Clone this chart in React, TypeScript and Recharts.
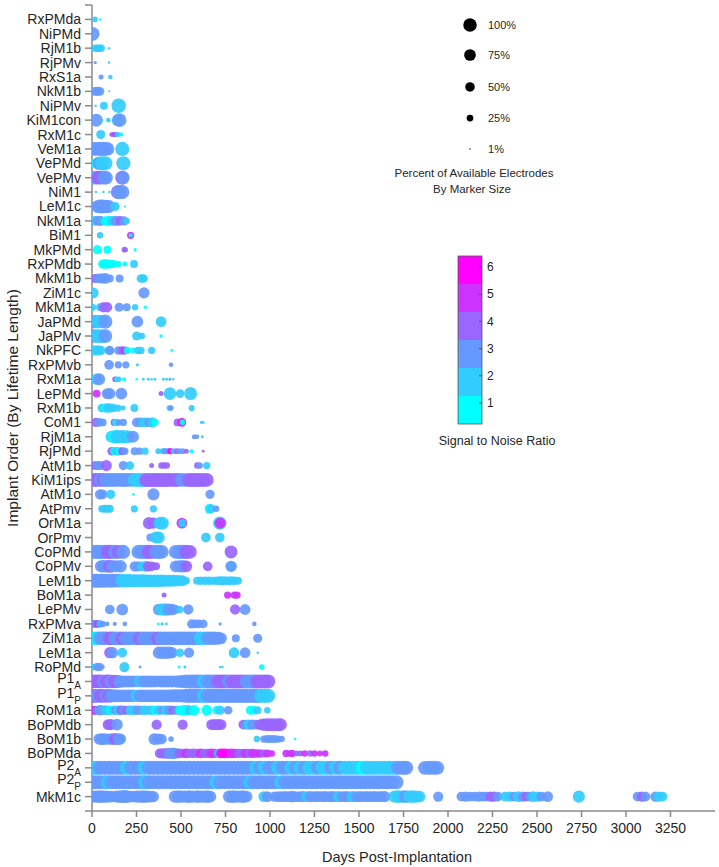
import React from "react";
import { ScatterChart, Scatter, XAxis, YAxis, Label } from "recharts";

// each dot: [days post-implantation, % of available electrodes, SNR level]
type Dot = [number, number, number];

const rxPMda: Dot[] = [[17, 15, 2], [45, 3, 1]];
const niPMd: Dot[] = [[4, 90, 3]];
const rjM1b: Dot[] = [[18, 25, 2], [30, 25, 2], [42, 25, 2], [52, 25, 2], [96, 3, 2]];
const rjPMv: Dot[] = [[18, 5, 3], [96, 3, 2]];
const rxS1a: Dot[] = [[51, 12, 3], [103, 10, 2]];
const nkM1b: Dot[] = [[15, 35, 3], [30, 40, 3], [45, 35, 3], [96, 2, 2]];
const niPMv: Dot[] = [[20, 3, 2], [67, 30, 2], [150, 100, 2]];
const kiM1con: Dot[] = [[24, 80, 3], [55, 3, 2], [92, 10, 2], [145, 70, 2], [155, 90, 3]];
const rxM1c: Dot[] = [[49, 40, 2], [110, 10, 4], [120, 12, 4], [130, 12, 5], [140, 12, 2], [152, 10, 2], [165, 8, 1]];
const veM1a: Dot[] = [[5, 85, 3], [20, 90, 3], [36, 90, 3], [50, 95, 3], [62, 90, 3], [75, 90, 3], [88, 85, 3], [170, 95, 2]];
const vePMd: Dot[] = [[2, 20, 3], [30, 70, 1], [40, 80, 3], [55, 95, 2], [75, 95, 2], [176, 95, 2]];
const vePMv: Dot[] = [[7, 85, 2], [25, 90, 3], [38, 90, 4], [52, 90, 4], [68, 90, 3], [80, 85, 3], [170, 95, 4], [174, 80, 3]];
const niM1: Dot[] = [[22, 3, 2], [64, 3, 2], [98, 3, 2], [145, 90, 4], [152, 95, 3], [170, 95, 3]];
const leM1c: Dot[] = [[30, 75, 3], [45, 90, 3], [60, 90, 3], [78, 85, 3], [95, 80, 3], [130, 40, 2], [185, 2, 2]];
const nkM1a: Dot[] = [[15, 45, 2], [30, 45, 3], [48, 50, 3], [65, 30, 2], [80, 40, 1], [95, 50, 1], [115, 45, 2], [135, 50, 3], [158, 45, 4], [180, 40, 3], [195, 20, 2]];
const biM1: Dot[] = [[45, 20, 2], [217, 25, 5], [217, 8, 1]];
const mkPMd: Dot[] = [[30, 40, 1], [86, 30, 1], [182, 15, 4], [188, 12, 4], [242, 5, 1]];
const rxPMdb: Dot[] = [[60, 40, 1], [75, 45, 1], [90, 40, 1], [105, 35, 1], [120, 30, 1], [148, 20, 1], [185, 12, 1], [236, 30, 2]];
const mkM1b: Dot[] = [[17, 40, 4], [35, 45, 3], [55, 50, 3], [75, 55, 3], [100, 30, 3], [155, 30, 3], [275, 35, 2], [290, 35, 2]];
const ziM1c: Dot[] = [[7, 55, 2], [292, 60, 3]];
const mkM1a: Dot[] = [[3, 25, 2], [45, 30, 2], [65, 50, 4], [85, 50, 4], [153, 40, 3], [195, 30, 3], [242, 20, 2], [300, 6, 1]];
const jaPMd: Dot[] = [[15, 85, 3], [35, 90, 2], [55, 85, 2], [75, 95, 3], [255, 65, 3], [388, 55, 2]];
const jaPMv: Dot[] = [[15, 85, 3], [35, 90, 2], [55, 90, 2], [75, 90, 3], [251, 40, 2], [280, 20, 2], [388, 6, 1]];
const nkPFC: Dot[] = [[15, 50, 2], [35, 50, 2], [50, 40, 2], [95, 35, 2], [100, 40, 3], [148, 35, 3], [168, 35, 4], [185, 30, 5], [198, 25, 1], [230, 15, 1], [258, 25, 2], [275, 25, 2], [335, 25, 2], [448, 4, 1]];
const rxPMvb: Dot[] = [[96, 45, 3], [148, 25, 3], [190, 25, 3], [255, 5, 2], [444, 10, 3]];
const rxM1a: Dot[] = [[25, 60, 2], [40, 70, 3], [130, 15, 5], [140, 15, 1], [150, 15, 2], [180, 8, 1], [251, 3, 1], [288, 4, 2], [316, 4, 2], [335, 3, 2], [354, 4, 2], [401, 4, 2], [419, 4, 2], [438, 4, 3], [457, 3, 2]];
const lePMd: Dot[] = [[26, 30, 5], [85, 55, 3], [100, 60, 3], [165, 65, 3], [388, 12, 4], [438, 75, 2], [495, 35, 2], [554, 80, 2]];
const rxM1b: Dot[] = [[55, 35, 2], [75, 40, 1], [90, 45, 2], [105, 40, 2], [120, 30, 2], [145, 25, 2], [175, 12, 2], [238, 30, 2], [435, 15, 2], [443, 15, 3], [560, 18, 2]];
const coM1: Dot[] = [[21, 40, 4], [40, 35, 3], [60, 30, 3], [125, 25, 4], [135, 25, 1], [150, 20, 3], [176, 25, 3], [250, 40, 3], [270, 45, 3], [285, 40, 2], [300, 45, 2], [320, 40, 3], [340, 50, 2], [354, 25, 1], [481, 30, 4], [505, 35, 6], [508, 15, 1], [615, 5, 2], [625, 4, 2]];
const rjM1a: Dot[] = [[110, 70, 2], [125, 80, 1], [140, 85, 2], [155, 80, 2], [175, 85, 2], [200, 80, 2], [230, 70, 3], [575, 12, 3], [590, 10, 3], [620, 4, 2]];
const rjPMd: Dot[] = [[110, 35, 4], [125, 30, 1], [140, 35, 2], [155, 30, 1], [170, 30, 4], [185, 25, 3], [240, 30, 3], [268, 25, 3], [298, 25, 2], [372, 15, 2], [395, 15, 2], [410, 18, 3], [425, 15, 3], [440, 18, 6], [457, 15, 2], [475, 15, 4], [490, 15, 3], [510, 15, 3], [530, 12, 4], [560, 8, 1], [625, 4, 4]];
const atM1b: Dot[] = [[15, 35, 4], [30, 40, 3], [45, 40, 3], [80, 60, 4], [176, 40, 3], [213, 35, 2], [335, 12, 4], [390, 20, 4], [405, 20, 4], [420, 20, 4], [592, 20, 4], [605, 20, 3], [645, 25, 2]];
const kiM1ips: Dot[] = [[8, 85, 3], [20, 90, 4], [35, 90, 4], [50, 90, 3], [65, 90, 4], [80, 95, 3], [100, 90, 3], [120, 95, 3], [140, 90, 3], [160, 90, 3], [180, 95, 3], [200, 90, 3], [220, 90, 3], [240, 90, 2], [255, 90, 2], [270, 95, 2], [290, 95, 2], [305, 95, 4], [325, 95, 4], [345, 95, 4], [365, 95, 4], [385, 95, 4], [405, 95, 4], [425, 95, 4], [445, 90, 4], [465, 95, 4], [485, 90, 4], [505, 90, 3], [525, 85, 3], [545, 95, 4], [565, 95, 4], [585, 95, 4], [605, 95, 4], [625, 95, 4], [645, 90, 4]];
const atM1o: Dot[] = [[45, 50, 3], [60, 45, 3], [105, 40, 2], [232, 3, 1], [345, 70, 3], [663, 40, 3]];
const atPmv: Dot[] = [[55, 25, 2], [70, 30, 2], [85, 30, 2], [100, 30, 2], [238, 25, 2], [345, 25, 2], [660, 45, 1], [668, 40, 2], [697, 20, 3]];
const orM1a: Dot[] = [[320, 70, 4], [345, 60, 4], [380, 70, 2], [395, 80, 2], [505, 55, 5], [508, 30, 2], [718, 85, 2], [720, 55, 5]];
const orPmv: Dot[] = [[328, 30, 3], [360, 70, 2], [375, 70, 2], [640, 45, 2], [718, 45, 2]];
const coPMd: Dot[] = [[12, 90, 3], [30, 95, 3], [50, 95, 3], [70, 95, 3], [90, 95, 4], [110, 95, 4], [130, 95, 3], [150, 90, 4], [175, 95, 3], [260, 90, 3], [280, 95, 3], [300, 95, 3], [320, 95, 4], [340, 90, 4], [360, 90, 3], [375, 95, 3], [392, 90, 3], [470, 90, 3], [490, 95, 3], [510, 95, 3], [530, 95, 4], [550, 90, 4], [781, 80, 4]];
const coPMv: Dot[] = [[50, 70, 3], [65, 75, 3], [80, 70, 3], [100, 80, 4], [115, 70, 3], [135, 70, 3], [160, 75, 3], [240, 50, 3], [260, 50, 3], [280, 45, 2], [300, 55, 2], [315, 50, 4], [335, 45, 4], [360, 30, 4], [470, 65, 3], [490, 70, 3], [510, 75, 3], [530, 65, 4], [650, 45, 4], [778, 50, 1], [782, 60, 3]];
const leM1b: Dot[] = [[10, 90, 3], [25, 95, 3], [40, 95, 3], [55, 90, 3], [70, 95, 3], [90, 90, 3], [110, 95, 3], [130, 90, 3], [150, 90, 3], [170, 85, 2], [190, 85, 2], [210, 85, 2], [230, 80, 2], [250, 80, 2], [270, 80, 2], [290, 80, 2], [310, 75, 2], [330, 75, 2], [350, 75, 2], [370, 75, 2], [390, 75, 2], [410, 70, 2], [430, 70, 2], [450, 70, 2], [470, 65, 2], [490, 60, 2], [510, 55, 2], [530, 25, 2], [590, 30, 2], [610, 35, 2], [635, 35, 2], [660, 35, 2], [680, 30, 2], [700, 35, 2], [720, 40, 2], [740, 40, 2], [760, 35, 2], [780, 40, 2], [800, 35, 2], [820, 30, 2]];
const boM1a: Dot[] = [[405, 12, 4], [762, 25, 5], [800, 25, 5], [815, 25, 5]];
const lePMv: Dot[] = [[100, 45, 3], [170, 65, 3], [375, 65, 3], [390, 70, 2], [410, 75, 2], [430, 70, 3], [450, 65, 3], [470, 40, 3], [494, 25, 2], [541, 50, 3], [804, 50, 4], [860, 55, 3]];
const rxPMva: Dot[] = [[10, 30, 3], [25, 30, 4], [36, 25, 5], [45, 25, 2], [60, 20, 3], [85, 10, 3], [128, 8, 3], [185, 10, 3], [372, 4, 1], [394, 5, 2], [418, 4, 2], [560, 40, 3], [580, 35, 3], [600, 35, 3], [625, 35, 3], [720, 5, 3], [912, 10, 3]];
const ziM1a: Dot[] = [[5, 80, 2], [20, 85, 1], [35, 85, 2], [50, 85, 3], [65, 90, 3], [80, 85, 3], [100, 90, 4], [115, 85, 4], [130, 90, 3], [150, 90, 3], [170, 90, 4], [190, 90, 3], [210, 90, 3], [230, 85, 3], [250, 90, 3], [270, 90, 4], [290, 90, 3], [310, 90, 3], [330, 90, 3], [350, 90, 3], [370, 90, 4], [390, 90, 3], [410, 90, 3], [430, 90, 3], [450, 90, 3], [470, 90, 3], [490, 90, 3], [510, 90, 3], [530, 90, 3], [550, 90, 3], [570, 90, 3], [590, 85, 3], [610, 90, 2], [630, 85, 2], [650, 85, 3], [670, 85, 3], [690, 85, 3], [710, 80, 3], [725, 65, 3], [808, 30, 3], [931, 40, 3]];
const leM1a: Dot[] = [[100, 60, 4], [115, 60, 3], [170, 45, 2], [375, 70, 3], [395, 75, 3], [415, 75, 3], [435, 70, 3], [450, 60, 3], [494, 35, 2], [545, 50, 3], [798, 55, 2], [860, 55, 3], [931, 3, 2]];
const roPMd: Dot[] = [[7, 20, 2], [30, 35, 3], [45, 30, 3], [64, 4, 3], [182, 50, 2], [270, 4, 3], [490, 4, 1], [522, 4, 2], [720, 3, 2], [733, 3, 2], [954, 15, 1]];
const p1A: Dot[] = [[5, 85, 4], [20, 90, 4], [35, 90, 4], [50, 90, 4], [65, 85, 3], [80, 90, 4], [95, 90, 4], [110, 85, 3], [125, 85, 4], [140, 80, 4], [155, 75, 3], [170, 70, 3], [190, 70, 3], [210, 70, 3], [230, 70, 3], [250, 65, 3], [270, 65, 2], [290, 70, 3], [310, 70, 3], [330, 70, 3], [350, 70, 3], [370, 65, 3], [390, 70, 3], [410, 70, 3], [430, 70, 3], [450, 70, 3], [470, 70, 3], [490, 75, 3], [510, 80, 3], [530, 90, 3], [550, 95, 3], [570, 95, 3], [590, 95, 3], [610, 95, 3], [630, 95, 2], [650, 95, 3], [670, 95, 3], [690, 95, 3], [710, 95, 4], [730, 95, 4], [750, 95, 4], [770, 95, 3], [790, 95, 4], [810, 95, 4], [830, 95, 4], [850, 95, 4], [870, 95, 3], [890, 95, 3], [910, 95, 3], [930, 95, 4], [950, 95, 4], [970, 95, 4], [990, 95, 4]];
const p1P: Dot[] = [[5, 90, 4], [20, 90, 4], [35, 90, 3], [50, 90, 4], [65, 90, 4], [80, 85, 3], [95, 90, 4], [110, 85, 3], [130, 80, 3], [150, 75, 3], [170, 75, 3], [190, 75, 3], [210, 75, 3], [230, 75, 3], [250, 70, 2], [270, 75, 3], [290, 75, 3], [310, 75, 3], [330, 75, 3], [350, 75, 3], [370, 75, 3], [390, 75, 3], [410, 75, 3], [430, 75, 3], [450, 80, 3], [470, 80, 3], [490, 80, 3], [510, 85, 3], [530, 95, 3], [550, 95, 3], [570, 95, 3], [590, 95, 3], [610, 95, 3], [630, 95, 2], [650, 95, 3], [670, 95, 3], [690, 95, 3], [710, 95, 3], [730, 95, 3], [750, 95, 3], [770, 95, 3], [790, 95, 3], [810, 95, 3], [830, 95, 3], [850, 95, 3], [870, 95, 3], [890, 95, 3], [910, 95, 3], [930, 95, 3], [950, 95, 2], [970, 95, 2], [990, 95, 2]];
const roM1a: Dot[] = [[0, 35, 1], [15, 40, 6], [30, 40, 3], [45, 50, 3], [60, 45, 3], [75, 45, 2], [90, 45, 2], [105, 40, 1], [120, 40, 2], [135, 40, 3], [150, 45, 2], [165, 45, 4], [180, 40, 3], [195, 40, 4], [215, 45, 2], [235, 45, 2], [255, 45, 3], [275, 40, 3], [295, 45, 2], [315, 40, 2], [335, 45, 2], [355, 40, 1], [375, 45, 2], [395, 40, 3], [415, 45, 2], [435, 45, 3], [455, 40, 4], [475, 40, 3], [495, 45, 1], [515, 50, 1], [535, 55, 1], [550, 45, 2], [575, 50, 1], [645, 55, 1], [700, 35, 1], [720, 40, 2], [765, 35, 3], [890, 40, 1], [910, 35, 1], [930, 30, 2], [985, 20, 2]];
const boPMdb: Dot[] = [[90, 55, 4], [105, 60, 4], [140, 65, 3], [363, 50, 4], [509, 50, 4], [672, 55, 4], [690, 60, 4], [710, 60, 4], [725, 55, 4], [850, 45, 4], [865, 45, 3], [880, 50, 2], [900, 50, 3], [920, 45, 3], [940, 50, 4], [960, 70, 4], [980, 80, 4], [1000, 80, 4], [1020, 80, 4], [1045, 80, 4], [1060, 75, 4]];
const boM1b: Dot[] = [[40, 60, 3], [55, 65, 3], [70, 65, 3], [90, 60, 3], [110, 65, 3], [130, 70, 4], [150, 65, 3], [160, 60, 3], [350, 65, 3], [370, 60, 3], [390, 55, 3], [444, 15, 3], [926, 20, 2], [965, 25, 3], [985, 30, 3], [1005, 30, 3], [1025, 30, 3], [1045, 25, 3], [1065, 20, 3], [1141, 3, 1]];
const boPMda: Dot[] = [[380, 45, 4], [395, 50, 4], [415, 55, 4], [435, 60, 3], [455, 65, 3], [470, 55, 3], [490, 45, 4], [510, 40, 4], [530, 45, 5], [550, 40, 4], [570, 45, 4], [590, 40, 4], [610, 45, 5], [630, 40, 4], [650, 40, 4], [670, 45, 5], [690, 40, 5], [710, 40, 2], [725, 45, 6], [745, 45, 6], [765, 40, 6], [785, 45, 5], [805, 40, 5], [825, 40, 4], [845, 40, 4], [865, 40, 5], [885, 40, 4], [905, 40, 5], [925, 35, 5], [945, 35, 5], [965, 30, 4], [985, 30, 5], [1010, 20, 5], [1090, 25, 5], [1110, 20, 5], [1125, 25, 5], [1150, 15, 4], [1170, 15, 4], [1195, 20, 5], [1225, 20, 4], [1250, 20, 5], [1280, 15, 5], [1310, 20, 5]];
const p2A: Dot[] = [[5, 90, 3], [25, 95, 2], [45, 95, 3], [70, 95, 3], [95, 95, 3], [120, 95, 3], [145, 95, 3], [170, 95, 3], [195, 95, 2], [220, 95, 3], [245, 95, 3], [270, 95, 3], [295, 95, 2], [320, 95, 3], [345, 95, 3], [370, 95, 3], [395, 95, 3], [420, 95, 3], [445, 95, 3], [470, 95, 3], [495, 95, 3], [520, 95, 3], [545, 95, 3], [570, 95, 3], [595, 95, 3], [620, 95, 3], [645, 95, 3], [670, 95, 3], [695, 95, 3], [720, 95, 3], [745, 95, 3], [770, 95, 3], [795, 95, 3], [820, 95, 3], [845, 95, 3], [870, 95, 3], [895, 95, 3], [920, 95, 2], [945, 95, 3], [970, 95, 2], [995, 95, 3], [1020, 95, 3], [1045, 95, 2], [1070, 95, 3], [1095, 95, 3], [1120, 95, 2], [1145, 95, 3], [1170, 95, 2], [1195, 95, 3], [1220, 95, 2], [1245, 95, 2], [1270, 95, 3], [1295, 95, 2], [1320, 95, 2], [1345, 95, 3], [1370, 95, 2], [1395, 95, 3], [1420, 95, 2], [1445, 95, 2], [1470, 95, 2], [1495, 95, 2], [1520, 95, 1], [1545, 95, 2], [1570, 95, 2], [1595, 95, 2], [1620, 95, 2], [1645, 95, 2], [1670, 95, 2], [1695, 95, 2], [1720, 95, 3], [1745, 95, 3], [1765, 95, 3], [1870, 90, 3], [1895, 95, 3], [1920, 95, 3], [1940, 90, 3]];
const p2P: Dot[] = [[5, 95, 3], [25, 95, 3], [45, 95, 3], [70, 95, 3], [90, 95, 2], [110, 95, 3], [135, 95, 3], [160, 95, 3], [185, 95, 3], [210, 95, 3], [235, 95, 3], [260, 95, 3], [285, 95, 3], [300, 95, 2], [320, 95, 3], [345, 95, 3], [370, 95, 3], [395, 95, 3], [420, 95, 3], [445, 95, 3], [470, 95, 3], [495, 95, 3], [520, 95, 3], [545, 95, 3], [570, 95, 3], [595, 95, 3], [620, 95, 3], [645, 95, 3], [670, 95, 3], [700, 95, 2], [720, 95, 3], [745, 95, 3], [770, 95, 3], [795, 95, 3], [820, 95, 3], [845, 95, 3], [870, 95, 3], [890, 95, 2], [910, 95, 3], [935, 95, 3], [960, 95, 3], [985, 95, 3], [1010, 95, 3], [1035, 95, 3], [1065, 95, 2], [1085, 95, 3], [1110, 95, 3], [1135, 95, 3], [1160, 95, 3], [1185, 95, 3], [1210, 95, 3], [1235, 95, 3], [1260, 95, 3], [1285, 95, 3], [1310, 95, 3], [1335, 95, 3], [1360, 95, 3], [1385, 95, 3], [1410, 95, 3], [1435, 95, 3], [1460, 95, 3], [1485, 95, 3], [1510, 95, 3], [1535, 95, 3], [1560, 95, 3], [1585, 95, 3], [1610, 95, 3], [1635, 95, 3], [1660, 95, 3], [1685, 95, 3], [1710, 95, 3]];
const mkM1c: Dot[] = [[5, 65, 3], [20, 70, 3], [35, 70, 3], [50, 75, 3], [65, 70, 3], [80, 70, 3], [95, 65, 3], [110, 65, 3], [140, 70, 3], [155, 70, 3], [170, 75, 3], [185, 80, 3], [200, 70, 3], [215, 65, 3], [230, 60, 3], [250, 70, 3], [270, 70, 3], [290, 75, 3], [310, 70, 3], [330, 65, 3], [345, 60, 3], [465, 70, 3], [485, 75, 3], [505, 70, 3], [525, 70, 3], [545, 75, 3], [565, 70, 3], [590, 75, 3], [610, 70, 3], [630, 70, 3], [650, 75, 3], [665, 65, 3], [770, 70, 3], [790, 75, 3], [810, 70, 3], [830, 70, 3], [850, 75, 3], [868, 65, 3], [965, 55, 2], [985, 55, 3], [1025, 50, 3], [1045, 55, 3], [1065, 55, 3], [1085, 60, 3], [1105, 55, 3], [1125, 65, 3], [1145, 55, 3], [1165, 55, 3], [1185, 60, 3], [1205, 55, 2], [1225, 60, 3], [1245, 55, 3], [1265, 60, 3], [1285, 55, 3], [1305, 60, 3], [1325, 55, 3], [1345, 60, 3], [1365, 55, 3], [1385, 60, 2], [1405, 55, 3], [1425, 60, 3], [1445, 55, 3], [1465, 60, 2], [1485, 55, 3], [1505, 60, 3], [1525, 55, 3], [1545, 60, 3], [1565, 55, 3], [1585, 60, 3], [1605, 55, 3], [1625, 60, 3], [1645, 60, 3], [1700, 70, 2], [1720, 75, 2], [1740, 70, 2], [1760, 75, 3], [1780, 70, 2], [1800, 75, 2], [1820, 70, 2], [1840, 65, 2], [1945, 50, 3], [2075, 45, 3], [2100, 50, 3], [2125, 45, 3], [2150, 45, 3], [2175, 50, 3], [2200, 45, 3], [2215, 45, 3], [2240, 50, 4], [2260, 50, 4], [2280, 45, 3], [2320, 45, 2], [2345, 50, 2], [2370, 45, 3], [2395, 55, 2], [2420, 50, 3], [2440, 45, 4], [2460, 45, 3], [2480, 55, 2], [2505, 50, 2], [2525, 45, 3], [2560, 55, 3], [2735, 70, 2], [3065, 45, 3], [3090, 50, 4], [3110, 45, 3], [3165, 50, 3], [3185, 50, 2], [3205, 45, 2]];

// top to bottom, ordered by lifetime length
const implants: [string, Dot[]][] = [
  ["RxPMda", rxPMda], ["NiPMd", niPMd], ["RjM1b", rjM1b], ["RjPMv", rjPMv], ["RxS1a", rxS1a],
  ["NkM1b", nkM1b], ["NiPMv", niPMv], ["KiM1con", kiM1con], ["RxM1c", rxM1c], ["VeM1a", veM1a],
  ["VePMd", vePMd], ["VePMv", vePMv], ["NiM1", niM1], ["LeM1c", leM1c], ["NkM1a", nkM1a],
  ["BiM1", biM1], ["MkPMd", mkPMd], ["RxPMdb", rxPMdb], ["MkM1b", mkM1b], ["ZiM1c", ziM1c],
  ["MkM1a", mkM1a], ["JaPMd", jaPMd], ["JaPMv", jaPMv], ["NkPFC", nkPFC], ["RxPMvb", rxPMvb],
  ["RxM1a", rxM1a], ["LePMd", lePMd], ["RxM1b", rxM1b], ["CoM1", coM1], ["RjM1a", rjM1a],
  ["RjPMd", rjPMd], ["AtM1b", atM1b], ["KiM1ips", kiM1ips], ["AtM1o", atM1o], ["AtPmv", atPmv],
  ["OrM1a", orM1a], ["OrPmv", orPmv], ["CoPMd", coPMd], ["CoPMv", coPMv], ["LeM1b", leM1b],
  ["BoM1a", boM1a], ["LePMv", lePMv], ["RxPMva", rxPMva], ["ZiM1a", ziM1a], ["LeM1a", leM1a],
  ["RoPMd", roPMd], ["P1_A", p1A], ["P1_P", p1P], ["RoM1a", roM1a], ["BoPMdb", boPMdb],
  ["BoM1b", boM1b], ["BoPMda", boPMda], ["P2_A", p2A], ["P2_P", p2P], ["MkM1c", mkM1c],
];

const snrColors = ["#00FFFF", "#33CCFF", "#6699FF", "#9966FF", "#CC33FF", "#FF00FF"];
const snrLevels = [6, 5, 4, 3, 2, 1];
const sizeLegend = [100, 75, 50, 25, 1];
const dayTicks = [0, 250, 500, 750, 1000, 1250, 1500, 1750, 2000, 2250, 2500, 2750, 3000, 3250];
const rowTicks = Array.from({ length: implants.length + 2 }, (_, i) => i);

const MAX_D = 14.5;
const LEGEND_D = 13.5;
const FONT = "'Liberation Sans', Arial, sans-serif";
const AXIS = "#8a8a8a";
const TEXT = "#262626";

const points = implants.flatMap(([, dots], i) =>
  dots.map(([day, pct, snr]) => ({ day, row: i + 1, pct, snr }))
);

const radius = (pct: number, d: number) => Math.max(0.6, (d / 2) * Math.sqrt(pct / 100));

const Bubble = (props: any) => {
  const { cx, cy, payload } = props;
  if (cx == null || cy == null) return <g />;
  return (
    <circle cx={cx} cy={cy} r={radius(payload.pct, MAX_D)} fill={snrColors[payload.snr - 1]} fillOpacity={0.92} />
  );
};

const ImplantTick = (props: any) => {
  const { x, y, payload } = props;
  const idx = payload.value;
  if (idx < 1 || idx > implants.length) return <g />;
  const name = implants[idx - 1][0];
  const [main, sub] = name.split("_");
  if (sub) {
    return (
      <text x={x} y={y - 3} dy="0.355em" textAnchor="end" fontSize={14} fill={TEXT} fontFamily={FONT}>
        {main}
        <tspan dy={6} fontSize={10}>{sub}</tspan>
      </text>
    );
  }
  return (
    <text x={x} y={y} dy="0.355em" textAnchor="end" fontSize={14} fill={TEXT} fontFamily={FONT}>
      {name}
    </text>
  );
};

function Legends() {
  return (
    <svg width={719} height={867} style={{ position: "absolute", left: 0, top: 0, pointerEvents: "none" }}>
      <g fontFamily={FONT} fill={TEXT}>
        {sizeLegend.map((p, i) => {
          const cy = [25, 55, 87, 118, 149][i];
          return (
            <g key={p}>
              <circle cx={470} cy={cy} r={radius(p, LEGEND_D)} fill="#000" />
              <text x={488} y={cy} dy="0.355em" fontSize={11}>{p}%</text>
            </g>
          );
        })}
        <text x={474} y={173} dy="0.355em" fontSize={11.5} textAnchor="middle">Percent of Available Electrodes</text>
        <text x={472} y={189} dy="0.355em" fontSize={11.5} textAnchor="middle">By Marker Size</text>

        {snrLevels.map((s, i) => (
          <rect key={s} x={458} y={256 + i * 28} width={24} height={28} fill={snrColors[s - 1]} />
        ))}
        <rect x={458} y={256} width={24} height={168} fill="none" stroke="#555" strokeWidth={0.8} />
        {snrLevels.map((s) => {
          const ty = 403 - (s - 1) * 27.2;
          return (
            <g key={"t" + s}>
              <line x1={479} x2={482} y1={ty} y2={ty} stroke="#444" strokeWidth={0.8} />
              <text x={487} y={ty} dy="0.355em" fontSize={12}>{s}</text>
            </g>
          );
        })}
        <text x={497} y={441} dy="0.355em" fontSize={12.5} textAnchor="middle">Signal to Noise Ratio</text>
      </g>
    </svg>
  );
}

export default function App() {
  return (
    <div style={{ position: "absolute", left: 0, top: 0, width: 719, height: 867, background: "#fff", fontFamily: FONT }}>
      <ScatterChart width={719} height={867} margin={{ top: 5, right: 4, bottom: 0, left: 0 }}>
        <XAxis
          type="number"
          dataKey="day"
          domain={[0, 3500]}
          ticks={dayTicks}
          interval={0}
          allowDataOverflow
          height={56}
          stroke={AXIS}
          strokeWidth={1.5}
          tickSize={6}
          tickMargin={6}
          tick={{ fontSize: 14, fill: TEXT, fontFamily: FONT }}
        >
          <Label
            content={() => (
              <text x={397} y={857} dy="0.355em" textAnchor="middle" fontSize={14.5} fill={TEXT} fontFamily={FONT}>
                Days Post-Implantation
              </text>
            )}
          />
        </XAxis>
        <YAxis
          type="number"
          dataKey="row"
          domain={[0, implants.length + 1]}
          reversed
          ticks={rowTicks}
          interval={0}
          width={92}
          stroke={AXIS}
          strokeWidth={1.5}
          tickSize={7}
          tickMargin={4}
          tick={<ImplantTick />}
        >
          <Label
            content={() => (
              <text x={18} y={408} transform="rotate(-90 18 408)" textAnchor="middle" fontSize={15.5} fill={TEXT} fontFamily={FONT}>
                Implant Order (By Lifetime Length)
              </text>
            )}
          />
        </YAxis>
        <Scatter data={points} shape={Bubble} isAnimationActive={false} />
      </ScatterChart>
      <Legends />
    </div>
  );
}
